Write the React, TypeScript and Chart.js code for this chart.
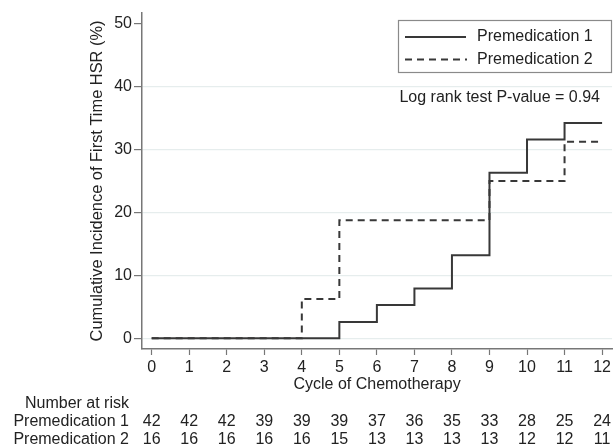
import React, { useEffect, useRef } from "react";
import { Chart, registerables } from "chart.js";

Chart.register(...registerables);

const cycles = [0, 1, 2, 3, 4, 5, 6, 7, 8, 9, 10, 11, 12];
const yTickValues = [0, 10, 20, 30, 40, 50];
const p1Times = [0, 5, 6, 7, 8, 9, 10, 11, 12];
const p1Values = [0, 2.6, 5.3, 7.9, 13.2, 26.3, 31.6, 34.2, 34.2];
const p2Times = [0, 4, 5, 9, 11, 12];
const p2Values = [0, 6.25, 18.75, 25, 31.25, 31.25];
const riskP1 = [42, 42, 42, 39, 39, 39, 37, 36, 35, 33, 28, 25, 24];
const riskP2 = [16, 16, 16, 16, 16, 15, 13, 13, 13, 13, 12, 12, 11];
const seriesNames = ["Premedication 1", "Premedication 2"];
const riskTitle = "Number at risk";
const pValueText = "Log rank test P-value = 0.94";
const xTitle = "Cycle of Chemotherapy";
const yTitle = "Cumulative Incidence of First Time HSR (%)";

const FONT = '"Liberation Sans", Arial, Helvetica, sans-serif';
const TEXT = "#222222";
const LINE = "#383838";
const AXIS = "#777777";
const GRID = "#e6eded";
const DASH = [7, 5];

const overlay = {
  id: "overlay",
  afterDraw(chart: any) {
    const { ctx, chartArea } = chart;
    const xs = chart.scales.x;
    ctx.save();
    ctx.fillStyle = TEXT;
    ctx.font = `16px ${FONT}`;
    ctx.textBaseline = "middle";

    // risk table
    const labelRight = chartArea.left - 13;
    ctx.textAlign = "right";
    ctx.fillText(riskTitle, labelRight, 404);
    ctx.fillText(seriesNames[0], labelRight, 422);
    ctx.fillText(seriesNames[1], labelRight, 440);
    ctx.textAlign = "center";
    cycles.forEach((c, i) => {
      const px = xs.getPixelForValue(c);
      ctx.fillText(String(riskP1[i]), px, 422);
      ctx.fillText(String(riskP2[i]), px, 440);
    });

    // legend box
    const bx = 398.5, by = 20.5, bw = 213, bh = 52;
    ctx.strokeStyle = "#8a8a8a";
    ctx.lineWidth = 1.2;
    ctx.strokeRect(bx, by, bw, bh);
    ctx.strokeStyle = LINE;
    ctx.lineWidth = 2;
    ctx.beginPath();
    ctx.moveTo(405, 37);
    ctx.lineTo(466, 37);
    ctx.stroke();
    ctx.setLineDash(DASH);
    ctx.beginPath();
    ctx.moveTo(405, 59.5);
    ctx.lineTo(467, 59.5);
    ctx.stroke();
    ctx.setLineDash([]);
    ctx.textAlign = "left";
    ctx.fillText(seriesNames[0], 477, 37);
    ctx.fillText(seriesNames[1], 477, 59.5);

    // p-value
    ctx.textAlign = "right";
    ctx.fillText(pValueText, 600, 98);
    ctx.restore();
  },
};

export default function App() {
  const ref = useRef<HTMLCanvasElement | null>(null);
  useEffect(() => {
    document.body.style.margin = "0";
    if (!ref.current) return;
    const chart = new Chart(ref.current, {
      type: "line",
      data: {
        datasets: [
          {
            label: seriesNames[0],
            data: p1Times.map((t, i) => ({ x: t, y: p1Values[i] })),
            stepped: "before",
            borderColor: LINE,
            borderWidth: 2,
            pointRadius: 0,
            fill: false,
          },
          {
            label: seriesNames[1],
            data: p2Times.map((t, i) => ({ x: t, y: p2Values[i] })),
            stepped: "before",
            borderColor: LINE,
            borderWidth: 2,
            borderDash: DASH,
            pointRadius: 0,
            fill: false,
          },
        ],
      },
      options: {
        animation: false,
        responsive: false,
        maintainAspectRatio: false,
        layout: { padding: { top: 13, right: 1, left: 0, bottom: 0 } },
        plugins: { legend: { display: false }, tooltip: { enabled: false } },
        scales: {
          x: {
            type: "linear",
            min: -0.258,
            max: 12.266,
            afterBuildTicks: (s: any) => {
              s.ticks = cycles.map((v) => ({ value: v }));
            },
            afterFit: (s: any) => {
              s.height = 99;
            },
            grid: {
              drawOnChartArea: false,
              drawTicks: true,
              tickLength: 6,
              tickColor: AXIS,
              tickWidth: 1.2,
            },
            border: { display: true, color: AXIS, width: 1.5 },
            ticks: {
              color: TEXT,
              font: { size: 16, family: FONT },
              padding: 3,
              maxRotation: 0,
              autoSkip: false,
            },
            title: {
              display: true,
              text: xTitle,
              color: TEXT,
              font: { size: 16, family: FONT },
              padding: { top: 0, bottom: 54 },
            },
          },
          y: {
            type: "linear",
            min: -1.7,
            max: 51.7,
            afterBuildTicks: (s: any) => {
              s.ticks = yTickValues.map((v) => ({ value: v }));
            },
            afterFit: (s: any) => {
              s.width = 142;
            },
            grid: {
              color: (c: any) => (c.tick && c.tick.value === 50 ? "rgba(0,0,0,0)" : GRID),
              lineWidth: 1.2,
              drawTicks: true,
              tickLength: 8,
              tickColor: AXIS,
              tickWidth: 1.2,
            },
            border: { display: true, color: AXIS, width: 1.5 },
            ticks: {
              color: TEXT,
              font: { size: 16, family: FONT },
              padding: 2,
              autoSkip: false,
            },
            title: {
              display: true,
              text: yTitle,
              color: TEXT,
              font: { size: 16.4, family: FONT },
              padding: { top: 88, bottom: 0 },
            },
          },
        },
      },
      plugins: [overlay],
    });
    return () => chart.destroy();
  }, []);
  return (
    <div style={{ position: "fixed", left: 0, top: 0, width: 614, height: 448, background: "#fff" }}>
      <canvas ref={ref} width={614} height={448} />
    </div>
  );
}
